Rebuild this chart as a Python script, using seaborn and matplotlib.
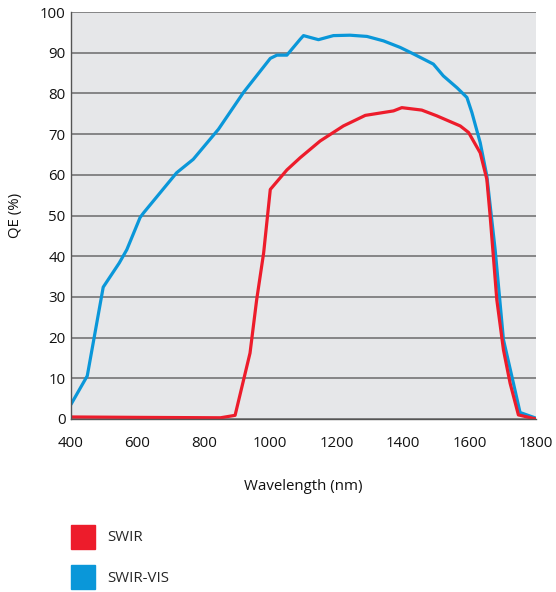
import pandas as pd
import numpy as np
import matplotlib
matplotlib.use("Agg")
import matplotlib.pyplot as plt
import matplotlib.patches as mpatches
from matplotlib.ticker import MultipleLocator
import seaborn as sns

# values
vis_wl = [400, 449, 497, 545, 568, 608, 618, 718, 768, 844, 919, 1000, 1020, 1050, 1090, 1100,
          1145, 1190, 1240, 1291, 1341, 1391, 1431, 1491, 1521, 1562, 1592, 1607, 1632, 1652,
          1677, 1702, 1732, 1752, 1800]
vis_qe = [3.6, 10.6, 32.4, 38.3, 41.6, 49.5, 50.6, 60.5, 63.8, 71.2, 80.2, 88.6, 89.4, 89.4, 93.3, 94.2,
          93.2, 94.2, 94.3, 94.0, 92.9, 91.3, 89.7, 87.2, 84.3, 81.4, 79.0, 75.3, 67.9, 59.7,
          41.6, 19.5, 8.8, 1.6, 0.2]

swir_wl = [400, 600, 850, 894, 939, 959, 980, 1000, 1050, 1090, 1150, 1220, 1286, 1371, 1396,
           1456, 1501, 1572, 1597, 1632, 1652, 1662, 1682, 1702, 1722, 1747, 1800]
swir_qe = [0.5, 0.4, 0.3, 0.9, 16.2, 29.3, 40.8, 56.4, 61.2, 64.2, 68.3, 72.0, 74.6, 75.7, 76.5,
           75.9, 74.5, 72.0, 70.4, 65.4, 58.9, 49.8, 29.3, 17.0, 8.8, 1.0, 0.0]

series_names = ["SWIR", "SWIR-VIS"]
series_colors = ["#ed1c2b", "#0a97d9"]

df = pd.concat([
    pd.DataFrame({"wl": swir_wl, "qe": swir_qe, "sensor": "SWIR"}),
    pd.DataFrame({"wl": vis_wl, "qe": vis_qe, "sensor": "SWIR-VIS"}),
])

sns.set_style("white")
plt.rcParams["font.family"] = ["Open Sans", "DejaVu Sans"]

fig = plt.figure(figsize=(5.56, 5.92), dpi=100)
ax = fig.add_axes([71 / 556, 1 - 419 / 592, 465 / 556, 407 / 592])
ax.set_facecolor("#e6e7e9")

sns.lineplot(data=df, x="wl", y="qe", hue="sensor", hue_order=series_names[::-1],
             palette=dict(zip(series_names, series_colors)), linewidth=2.3,
             legend=False, ax=ax, sort=False)

ax.set_xlim(400, 1800)
ax.set_ylim(0, 100)
ax.xaxis.set_major_locator(MultipleLocator(200))
ax.xaxis.set_minor_locator(MultipleLocator(100))
ax.yaxis.set_major_locator(MultipleLocator(10))
ax.yaxis.set_minor_locator(MultipleLocator(2))

ax.grid(axis="y", which="major", color="#6b6b6b", linewidth=1.1)
ax.set_axisbelow(True)
for s in ["top", "right"]:
    ax.spines[s].set_visible(False)
for s in ["left", "bottom"]:
    ax.spines[s].set_color("#555555")
    ax.spines[s].set_linewidth(1.0)

ax.tick_params(axis="both", which="major", direction="inout", length=7, width=1,
               color="#555555", labelsize=10.8, labelcolor="#111111", pad=4)
ax.tick_params(axis="both", which="minor", direction="in", length=4, width=0.8, color="#555555")
ax.tick_params(axis="y", which="major", direction="in", length=5)
ax.tick_params(axis="x", which="major", pad=9)

ax.set_xlabel("Wavelength (nm)", fontsize=10.8, labelpad=20, color="#111111")
ax.set_ylabel("QE (%)", fontsize=10.8, labelpad=12, color="#111111")

handles = [mpatches.Patch(color=c, label=n) for n, c in zip(series_names, series_colors)]
fig.legend(handles=handles, loc="upper left", bbox_to_anchor=(57 / 556, 1 - 511 / 592),
           frameon=False, fontsize=10.8, handlelength=1.65, handleheight=2.1,
           handletextpad=0.8, labelspacing=1.1)

fig.savefig("out.png", dpi=100)
